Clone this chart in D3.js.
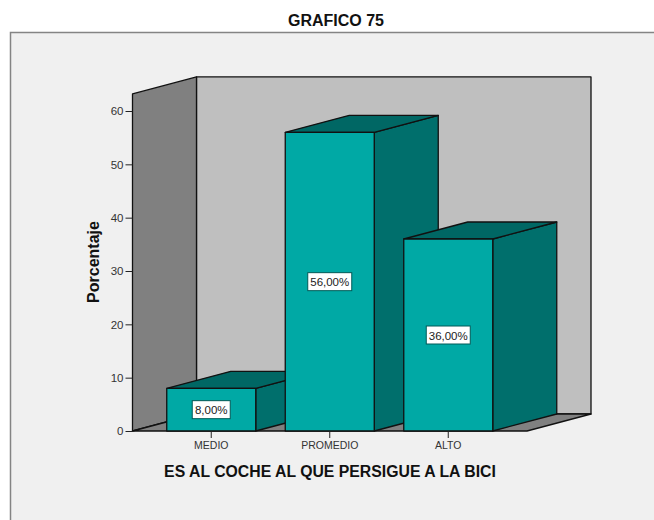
<!DOCTYPE html>
<html lang="en">
<head>
<meta charset="utf-8">
<title>Grafico 75</title>
<script src="https://cdn.jsdelivr.net/npm/d3@7"></script>
<style>
html, body { margin: 0; padding: 0; background: #fff; }
svg { display: block; }
text { font-family: "Liberation Sans", Arial, sans-serif; }
.tick text { fill: #333; }
.y-axis .tick text { font-size: 11.5px; }
.x-axis .tick text { font-size: 10.5px; }
.tick line { stroke: #222; }
</style>
</head>
<body>
<script>
var categories = ["MEDIO", "PROMEDIO", "ALTO"];
var values = [8, 56, 36];
var valueLabels = ["8,00%", "56,00%", "36,00%"];
var yTicks = [0, 10, 20, 30, 40, 50, 60];
var yTop = 63.2; // top of the left wall, in axis units

var w = 654, h = 520;
var depthX = 64, depthY = -17;

var svg = d3.select("body").append("svg")
	.attr("width", w)
	.attr("height", h);

var x = d3.scaleBand()
	.domain(categories)
	.range([132.5, 527])
	.paddingInner(0.249)
	.paddingOuter(0.289);

var y = d3.scaleLinear()
	.domain([0, 60])
	.range([431, 111]);

// chart frame, runs off the right and bottom of the picture
svg.append("rect")
	.attr("x", 10.5)
	.attr("y", 32.5)
	.attr("width", w)
	.attr("height", h)
	.attr("fill", "#f0f0f0")
	.attr("stroke", "#848484")
	.attr("stroke-width", 1.5);

function poly(points, fill) {
	svg.append("path")
		.attr("d", d3.line()(points) + "Z")
		.attr("fill", fill)
		.attr("stroke", "#111")
		.attr("stroke-width", 1.3)
		.attr("stroke-linejoin", "round");
}

var xl = x.range()[0], xr = x.range()[1];
var y0 = y(0), yt = y(yTop);

// walls and floor
poly([[xl + depthX, yt + depthY], [xr + depthX, yt + depthY], [xr + depthX, y0 + depthY], [xl + depthX, y0 + depthY]], "#bfbfbf");
poly([[xl, yt], [xl + depthX, yt + depthY], [xl + depthX, y0 + depthY], [xl, y0]], "#808080");
poly([[xl, y0], [xl + depthX, y0 + depthY], [xr + depthX, y0 + depthY], [xr, y0]], "#808080");

// bars, left to right so each one covers the side of the previous
categories.forEach(function(c, i) {
	var bx = x(c), bw = x.bandwidth(), by = y(values[i]);
	poly([[bx + bw, by], [bx + bw + depthX, by + depthY], [bx + bw + depthX, y0 + depthY], [bx + bw, y0]], "#006f6c");
	poly([[bx, by], [bx + depthX, by + depthY], [bx + bw + depthX, by + depthY], [bx + bw, by]], "#006764");
	poly([[bx, by], [bx + bw, by], [bx + bw, y0], [bx, y0]], "#00a9a5");
});

// axes
var yAxis = d3.axisLeft(y).tickValues(yTicks).tickSizeOuter(0).tickSize(7).tickPadding(2);
svg.append("g")
	.attr("class", "y-axis")
	.attr("transform", "translate(" + xl + ",0)")
	.call(yAxis)
	.call(function(g) { g.select(".domain").remove(); });

var xAxis = d3.axisBottom(x).tickSize(7).tickPadding(4);
svg.append("g")
	.attr("class", "x-axis")
	.attr("transform", "translate(0," + y0 + ")")
	.call(xAxis)
	.call(function(g) { g.select(".domain").remove(); });

// value labels
categories.forEach(function(c, i) {
	var cx = x(c) + x.bandwidth() / 2;
	var cy = (y(values[i]) + y0) / 2;
	var bw = valueLabels[i].length > 5 ? 44 : 38;
	svg.append("rect")
		.attr("x", cx - bw / 2)
		.attr("y", cy - 9)
		.attr("width", bw)
		.attr("height", 18)
		.attr("fill", "#fff")
		.attr("stroke", "#005a58")
		.attr("stroke-width", 1);
	svg.append("text")
		.attr("x", cx)
		.attr("y", cy + 4.5)
		.attr("text-anchor", "middle")
		.attr("font-size", 11.5)
		.attr("fill", "#222")
		.text(valueLabels[i]);
});

// titles
svg.append("text")
	.attr("x", 336)
	.attr("y", 26)
	.attr("text-anchor", "middle")
	.attr("font-size", 16)
	.attr("font-weight", "bold")
	.attr("fill", "#111")
	.text("GRAFICO 75");

svg.append("text")
	.attr("x", 330)
	.attr("y", 477)
	.attr("text-anchor", "middle")
	.attr("font-size", 15.8)
	.attr("font-weight", "bold")
	.attr("fill", "#111")
	.text("ES AL COCHE AL QUE PERSIGUE A LA BICI");

svg.append("text")
	.attr("transform", "translate(99,262) rotate(-90)")
	.attr("text-anchor", "middle")
	.attr("font-size", 16)
	.attr("font-weight", "bold")
	.attr("fill", "#111")
	.text("Porcentaje");
</script>
</body>
</html>
